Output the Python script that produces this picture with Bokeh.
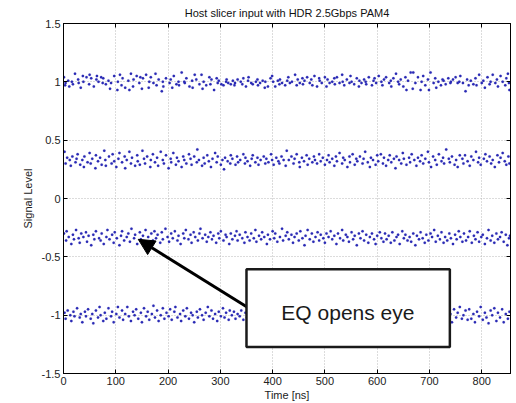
from bokeh.plotting import figure
from bokeh.models import (Range1d, FixedTicker, LinearAxis, Arrow, NormalHead,
                          BoxAnnotation, Label)
from bokeh.embed import file_html
from bokeh.resources import INLINE

title_text = "Host slicer input with HDR 2.5Gbps PAM4"
x_label = "Time [ns]"
y_label = "Signal Level"
x_ticks = [0, 100, 200, 300, 400, 500, 600, 700, 800]
y_ticks = [-1.5, -1.0, -0.5, 0.0, 0.5, 1.0, 1.5]
y_tick_labels = ["-1.5", "-1", "-0.5", "0", "0.5", "1", "1.5"]
note_text = "EQ opens eye"

# level +1
t1 = [1,3,4,9,11,16,18,22,28,29, 33,37,38,44,49,50,53,58,63,64, 67,72,75,76,81,86,89,91,97,103,
      104,108,111,113,118,124,126,129,133,134, 140,145,147,150,152,158,163,164,167,172,
      176,178,182,188,190,191,196,203,205,208, 211,216,220,221,226,231,232,235,241,246,
      247,251,254,260,264,266,268,273,279,281, 283,288,293,295,297,302,306,311,312,315,
      320,324,327,328,333,339,342,344,349,353, 354,359,362,368,371,372,376,381,385,386,
      391,396,399,401,405,410,413,414,418,424, 428,430,433,437,443,446,448,452,457,458,
      461,466,471,474,476,480,485,489,490,494, 500,503,505,509,514,518,519,523,528,533,
      534,537,542,547,549,551,556,561,565,566, 570,575,578,579,584,590,593,595,598,603,
      608,610,613,617,623,626,627,631,636,640, 642,645,650,654,656,659,664,668,669,673,
      678,683,685,688,692,697,699,702,708,711, 713,717,722,725,727,731,736,740,741,745,
      750,754,757,759,764,769,772,775,779,784, 788,790,795,800,803,806,811,815,817,821,
      826,829,831,836,840,845,847,850,852,853]
v1 = [1.04,0.97,0.99,1.01,0.96,1.00,0.98,1.07,1.02,0.99, 0.95,1.05,1.00,1.04,0.98,1.06,1.03,0.96,1.02,1.05,
      1.00,1.04,0.99,1.03,0.98,1.01,0.94,0.99,1.05,0.93, 1.00,1.06,0.97,1.03,0.95,1.01,0.93,1.07,0.96,1.02,
      1.05,0.99,1.04,0.94,1.03,1.06,0.95,1.00,1.04,0.99, 1.07,0.97,1.02,0.92,1.00,0.96,1.03,0.99,1.02,0.95,
      1.05,0.98,1.00,0.97,1.08,1.00,0.99,1.03,0.96,1.01, 0.95,1.06,1.02,0.98,1.06,0.94,1.00,0.97,1.04,0.98,
      1.02,0.93,1.03,0.99,1.01,0.98,0.97,1.00,1.02,0.99, 0.98,1.01,0.97,0.99,1.02,1.00,0.98,1.03,0.96,1.01,
      1.04,0.99,0.98,1.00,1.02,0.97,0.99,1.01,0.95,1.00, 0.96,1.03,1.05,1.00,0.96,1.01,0.98,1.02,0.99,0.97,
      1.01,1.04,0.99,1.00,1.06,0.97,1.02,0.99,1.03,0.98, 1.01,1.04,0.99,1.02,0.97,1.05,0.96,1.03,1.01,0.99,
      1.04,0.96,1.02,0.99,1.00,1.03,0.98,1.04,0.99,1.06, 1.00,0.97,1.02,0.99,1.05,1.00,0.98,1.03,0.96,1.01,
      0.99,1.02,1.00,0.98,1.04,0.97,1.01,1.03,0.99,1.05, 1.00,0.97,1.02,1.04,0.99,1.01,0.96,1.03,1.07,1.00,
      0.98,1.02,0.96,1.04,0.93,1.01,1.08,0.94,1.08,0.99, 1.04,0.93,1.00,1.05,0.97,1.02,0.93,1.08,0.99,1.03,
      0.95,1.00,0.97,1.02,1.01,0.98,1.03,0.99,1.00,1.02, 1.04,0.99,1.00,1.05,0.99,0.92,1.02,0.97,1.01,0.98,
      1.03,0.97,1.06,0.99,1.01,0.95,1.04,0.98,1.00,1.06, 0.99,1.02,0.96,1.05,1.00,0.97,1.03,1.07,0.99,0.93]

# level +1/3
t2 = [2,4,7,12,14,17,23,25,27,32, 36,39,40,46,50,52,55,61,62,66, 70,73,78,80,81,87,92,94,97,101,
      105,107,112,117,118,121,126,129,131,137, 141,142,146,151,154,156,160,166,167,171,
      175,179,181,186,190,192,196,201,205,206, 210,215,217,220,226,229,231,235,240,243,
      245,250,255,256,259,265,268,270,275,278, 282,285,290,293,295,301,304,307,309,314,
      319,320,323,329,332,334,338,344,347,348, 352,357,360,362,367,371,373,377,383,386,
      388,392,397,399,402,407,411,413,417,421, 425,427,431,436,440,442,446,451,452,456,
      460,465,467,470,476,479,481,485,489,492, 496,500,504,507,509,514,518,521,523,528,
      533,535,538,543,547,548,553,557,560,562, 567,572,574,577,582,586,588,592,597,600,
      602,607,611,613,617,621,624,627,632,635, 637,642,646,649,651,656,661,663,666,671,
      675,678,682,685,688,692,697,699,703,707, 711,714,718,723,726,728,732,737,739,743,
      748,751,754,758,763,765,768,773,777,780, 784,789,793,795,798,804,807,810,815,818,
      821,825,830,833,836,840,844,847,851,853]
v2 = [0.40,0.30,0.35,0.33,0.28,0.36,0.31,0.34,0.38,0.29, 0.33,0.27,0.36,0.31,0.39,0.30,0.34,0.26,0.37,0.32,
      0.35,0.29,0.41,0.33,0.28,0.36,0.30,0.38,0.32,0.27, 0.34,0.39,0.31,0.36,0.26,0.33,0.40,0.30,0.35,0.28,
      0.37,0.32,0.29,0.41,0.34,0.30,0.36,0.27,0.33,0.38, 0.31,0.35,0.28,0.40,0.33,0.30,0.37,0.26,0.34,0.31,
      0.39,0.29,0.35,0.32,0.27,0.36,0.33,0.30,0.38,0.34, 0.29,0.36,0.31,0.42,0.33,0.28,0.35,0.30,0.37,0.32,
      0.27,0.34,0.39,0.31,0.36,0.29,0.33,0.25,0.35,0.32, 0.30,0.37,0.34,0.29,0.36,0.31,0.33,0.38,0.30,0.35,
      0.32,0.28,0.34,0.37,0.31,0.35,0.29,0.33,0.36,0.30, 0.34,0.31,0.38,0.33,0.29,0.35,0.32,0.30,0.36,0.33,
      0.28,0.41,0.33,0.36,0.30,0.34,0.38,0.31,0.27,0.35, 0.32,0.37,0.29,0.34,0.31,0.36,0.33,0.30,0.38,0.32,
      0.35,0.29,0.33,0.37,0.31,0.34,0.28,0.36,0.32,0.39, 0.30,0.35,0.33,0.27,0.36,0.31,0.38,0.29,0.34,0.32,
      0.36,0.30,0.34,0.40,0.31,0.27,0.35,0.33,0.29,0.37, 0.32,0.38,0.30,0.35,0.28,0.33,0.37,0.31,0.34,0.26,
      0.36,0.33,0.30,0.39,0.34,0.29,0.35,0.31,0.38,0.33, 0.28,0.35,0.32,0.37,0.30,0.34,0.40,0.31,0.27,0.36,
      0.33,0.29,0.38,0.32,0.35,0.30,0.42,0.34,0.31,0.36, 0.29,0.33,0.27,0.37,0.34,0.30,0.37,0.32,0.28,0.36,
      0.33,0.40,0.31,0.35,0.29,0.34,0.38,0.32,0.36,0.30, 0.33,0.27,0.37,0.31,0.35,0.39,0.32,0.29,0.36,0.30]

# level -1/3
t3 = [1,5,6,10,15,18,20,24,29,31, 34,38,43,45,48,53,57,59,62,68, 71,73,77,82,84,88,93,96,98,102,
      107,110,112,116,121,124,127,130,135,137, 141,146,148,152,157,159,162,168,171,174,
      177,180,185,188,190,195,199,202,206,209, 213,218,220,224,229,231,234,239,243,245,
      249,252,257,260,262,266,271,274,277,281, 284,287,292,296,298,301,306,310,312,317,
      320,323,328,331,333,337,342,346,348,352, 356,359,364,367,369,374,378,380,384,389,
      391,395,400,403,405,409,414,418,420,425, 428,431,436,439,442,446,450,453,457,461,
      463,467,471,475,478,482,486,489,492,497, 500,503,507,511,514,518,522,525,529,533,
      535,540,543,546,551,554,557,561,565,568, 572,575,579,583,586,590,594,597,600,605,
      608,612,615,618,622,626,629,633,637,640, 643,648,651,654,658,662,665,669,673,676,
      680,683,687,691,694,698,702,705,709,712, 716,720,723,727,730,734,738,741,745,749,
      752,756,759,763,766,770,774,777,781,785, 788,792,795,799,802,806,810,813,817,820,
      824,828,831,835,838,842,846,849,852,854]
v3 = [-0.30,-0.36,-0.28,-0.33,-0.39,-0.31,-0.35,-0.27,-0.34,-0.38, -0.30,-0.33,-0.29,-0.37,-0.32,-0.40,-0.31,-0.35,-0.28,-0.34,
      -0.36,-0.30,-0.39,-0.33,-0.27,-0.35,-0.31,-0.38,-0.29,-0.34, -0.40,-0.32,-0.28,-0.36,-0.33,-0.30,-0.37,-0.26,-0.34,-0.31,
      -0.39,-0.29,-0.35,-0.32,-0.27,-0.37,-0.33,-0.30,-0.36,-0.28, -0.34,-0.31,-0.38,-0.29,-0.35,-0.26,-0.33,-0.37,-0.30,-0.34,
      -0.28,-0.36,-0.32,-0.39,-0.30,-0.34,-0.27,-0.35,-0.31,-0.38, -0.29,-0.33,-0.36,-0.30,-0.26,-0.34,-0.31,-0.37,-0.33,-0.29,
      -0.35,-0.32,-0.38,-0.30,-0.34,-0.28,-0.36,-0.31,-0.33,-0.39, -0.30,-0.35,-0.32,-0.28,-0.36,-0.31,-0.34,-0.38,-0.29,-0.33,
      -0.36,-0.30,-0.34,-0.27,-0.37,-0.32,-0.35,-0.29,-0.33,-0.39, -0.31,-0.35,-0.28,-0.34,-0.30,-0.37,-0.33,-0.26,-0.36,-0.32,
      -0.29,-0.35,-0.31,-0.38,-0.33,-0.30,-0.36,-0.28,-0.34,-0.40, -0.32,-0.27,-0.35,-0.30,-0.37,-0.33,-0.29,-0.36,-0.31,-0.34,
      -0.38,-0.30,-0.33,-0.28,-0.35,-0.32,-0.39,-0.30,-0.34,-0.27, -0.36,-0.31,-0.33,-0.37,-0.29,-0.35,-0.32,-0.40,-0.30,-0.34,
      -0.28,-0.36,-0.31,-0.38,-0.33,-0.30,-0.35,-0.39,-0.32,-0.29, -0.34,-0.37,-0.30,-0.35,-0.32,-0.38,-0.29,-0.36,-0.33,-0.31,
      -0.39,-0.28,-0.34,-0.31,-0.36,-0.33,-0.37,-0.30,-0.40,-0.32, -0.35,-0.29,-0.34,-0.38,-0.31,-0.36,-0.30,-0.33,-0.27,-0.37,
      -0.32,-0.35,-0.29,-0.38,-0.33,-0.36,-0.30,-0.34,-0.39,-0.31, -0.35,-0.28,-0.33,-0.37,-0.30,-0.36,-0.33,-0.28,-0.38,-0.32,
      -0.35,-0.29,-0.37,-0.33,-0.31,-0.39,-0.34,-0.27,-0.36,-0.32, -0.38,-0.30,-0.35,-0.33,-0.29,-0.37,-0.31,-0.40,-0.34,-0.32]

# level -1
t4 = [2,4,8,13,15,19,21,26,31,33, 36,41,43,47,52,55,57,62,66,69, 71,76,79,82,86,91,93,96,101,104,
      107,112,114,118,122,125,129,133,136,139, 143,148,150,154,158,161,164,169,172,175,
      179,182,186,190,193,197,201,204,207,212, 214,218,223,225,229,233,236,240,244,247,
      250,255,257,261,265,268,272,276,279,283, 286,290,294,297,301,305,308,311,316,318,
      322,326,329,333,337,340,344,348,351,355, 358,362,366,369,373,377,380,384,388,391,
      395,399,402,406,410,413,417,421,424,428, 432,435,439,443,446,450,454,457,461,465,
      468,472,476,479,483,487,490,494,498,501, 505,509,512,516,520,523,527,531,534,538,
      542,545,549,553,556,560,564,567,571,575, 578,582,586,589,593,597,600,604,608,611,
      615,619,622,626,630,633,637,641,644,648, 652,655,659,663,666,670,674,677,681,685,
      688,692,696,699,703,707,710,714,718,721, 725,729,732,736,740,743,747,751,754,758,
      762,765,769,773,776,780,784,787,791,795, 798,802,806,809,813,817,820,824,828,831,
      835,839,842,846,850,853]
v4 = [-0.98,-1.03,-0.96,-1.00,-1.05,-0.97,-1.01,-0.94,-1.02,-0.99, -1.06,-0.97,-1.01,-0.95,-1.03,-0.99,-1.07,-0.96,-1.02,-0.93,
      -1.00,-1.05,-0.98,-1.03,-0.94,-1.01,-0.97,-1.06,-0.99,-0.93, -1.02,-0.96,-1.04,-0.99,-0.93,-1.01,-1.05,-0.97,-1.00,-0.95,
      -1.03,-0.98,-1.06,-0.94,-1.01,-0.97,-1.04,-0.99,-0.92,-1.02, -0.96,-1.05,-1.00,-0.94,-1.03,-0.98,-1.01,-0.95,-1.04,-0.97,
      -0.93,-1.02,-0.99,-1.05,-0.96,-1.01,-0.94,-1.03,-0.98,-1.00, -1.06,-0.97,-1.02,-0.95,-1.00,-1.04,-0.98,-0.93,-1.01,-0.96,
      -1.03,-0.99,-1.05,-0.97,-1.01,-0.94,-1.02,-0.98,-1.04,-0.96, -1.00,-0.97,-1.03,-0.99,-1.01,-0.96,-1.04,-0.98,-1.02,-1.00,
      -0.97,-1.03,-0.99,-1.01,-0.95,-1.02,-0.98,-1.04,-1.00,-0.97, -1.02,-0.98,-1.05,-0.99,-1.01,-0.96,-1.03,-0.98,-1.00,-1.04,
      -0.97,-1.01,-0.99,-1.03,-0.96,-1.02,-0.98,-1.05,-1.00,-0.97, -1.02,-0.99,-1.04,-0.96,-1.01,-0.98,-1.03,-1.00,-0.97,-1.02,
      -0.99,-1.04,-0.97,-1.01,-0.95,-1.03,-0.98,-1.00,-1.02,-0.96, -1.03,-0.99,-1.01,-0.97,-1.04,-1.00,-0.98,-1.02,-0.96,-1.03,
      -1.00,-0.97,-1.02,-0.99,-1.05,-0.98,-1.01,-0.96,-1.03,-1.00, -0.98,-1.02,-0.95,-1.03,-0.99,-1.01,-0.97,-1.04,-1.00,-0.98,
      -1.01,-0.96,-1.03,-1.00,-0.94,-1.02,-0.98,-1.05,-0.93,-1.01, -1.04,-0.97,-1.02,-0.93,-1.06,-1.00,-0.96,-1.03,-0.99,-0.94,
      -1.05,-1.01,-0.97,-1.03,-0.99,-1.06,-0.95,-1.02,-0.98,-0.93, -1.03,-1.00,-0.96,-1.04,-0.95,-1.03,-0.99,-1.06,-0.97,-1.01,
      -0.93,-1.04,-0.98,-1.02,-1.07,-0.96,-1.00,-0.94,-1.05,-0.98, -1.02,-0.95,-1.06,-0.99,-1.03,-0.97]

times = []
levels = []
for tt, vv in ((t1, v1), (t2, v2), (t3, v3), (t4, v4)):
    n = min(len(tt), len(vv))
    times += tt[:n]
    levels += vv[:n]

FONT = "Liberation Sans"

p = figure(width=516, height=403, output_backend="svg", toolbar_location=None,
           x_range=Range1d(0, 855), y_range=Range1d(-1.5, 1.5),
           min_border_left=63, min_border_right=6, min_border_top=23, min_border_bottom=29,
           title=title_text)
p.background_fill_color = "white"
p.border_fill_color = "white"
p.outline_line_color = "black"
p.outline_line_width = 1

p.title.align = "center"
p.title.text_font = FONT
p.title.text_font_size = "11px"
p.title.text_font_style = "normal"
p.title.text_color = "#111111"
p.title.standoff = 9

for ax in (p.xaxis[0], p.yaxis[0]):
    ax.major_tick_in = 4
    ax.major_tick_out = 0
    ax.minor_tick_in = 0
    ax.minor_tick_out = 0
    ax.axis_line_color = "black"
    ax.major_tick_line_color = "black"
    ax.major_label_text_font = FONT
    ax.major_label_text_font_size = "11px"
    ax.major_label_text_color = "#222222"
    ax.axis_label_text_font = FONT
    ax.axis_label_text_font_size = "11px"
    ax.axis_label_text_font_style = "normal"
    ax.axis_label_text_color = "#222222"

p.xaxis[0].ticker = FixedTicker(ticks=x_ticks)
p.yaxis[0].ticker = FixedTicker(ticks=y_ticks)
p.yaxis[0].major_label_overrides = {t: s for t, s in zip(y_ticks, y_tick_labels)}
p.xaxis[0].major_label_overrides = {t: str(t) for t in x_ticks}
p.xaxis[0].axis_label = x_label
p.yaxis[0].axis_label = y_label
p.xaxis[0].major_label_standoff = 3
p.xaxis[0].axis_label_standoff = 1
p.yaxis[0].major_label_standoff = 3
p.yaxis[0].axis_label_standoff = 5

# mirrored tick marks on top and right (box style), no labels
for loc, ticks in (("right", y_ticks), ("above", x_ticks)):
    ax = LinearAxis(ticker=FixedTicker(ticks=ticks))
    ax.major_tick_in = 4
    ax.major_tick_out = 0
    ax.minor_tick_in = 0
    ax.minor_tick_out = 0
    ax.major_label_overrides = {t: "" for t in ticks}
    ax.major_label_text_font_size = "1px"
    ax.major_label_standoff = 0
    ax.axis_line_color = "black"
    ax.major_tick_line_color = "black"
    p.add_layout(ax, loc)

p.grid.grid_line_color = "#b8b8b8"
p.grid.grid_line_dash = "1 2"
p.grid.grid_line_width = 1
p.xgrid.ticker = FixedTicker(ticks=x_ticks)
p.ygrid.ticker = FixedTicker(ticks=y_ticks)

p.scatter(times, levels, marker="circle", size=2.5, fill_color="#2a2ab5",
          line_color="#2a2ab5", line_width=0.2)

arrow = Arrow(end=NormalHead(size=16, fill_color="black", line_color="black"),
              x_start=351, y_start=-0.93, x_end=143, y_end=-0.35,
              line_color="black", line_width=3)
p.add_layout(arrow)

box = BoxAnnotation(left=350, right=739, top=-0.606, bottom=-1.272,
                    fill_color="white", fill_alpha=1.0,
                    line_color="#1a1a1a", line_width=2.5, line_alpha=1.0)
p.add_layout(box)

note = Label(x=544, y=-0.975, text=note_text, text_font=FONT, text_font_size="21px",
             text_align="center", text_baseline="middle", text_color="#1a1a1a")
p.add_layout(note)

open("out.html", "w").write(file_html(p, INLINE))
